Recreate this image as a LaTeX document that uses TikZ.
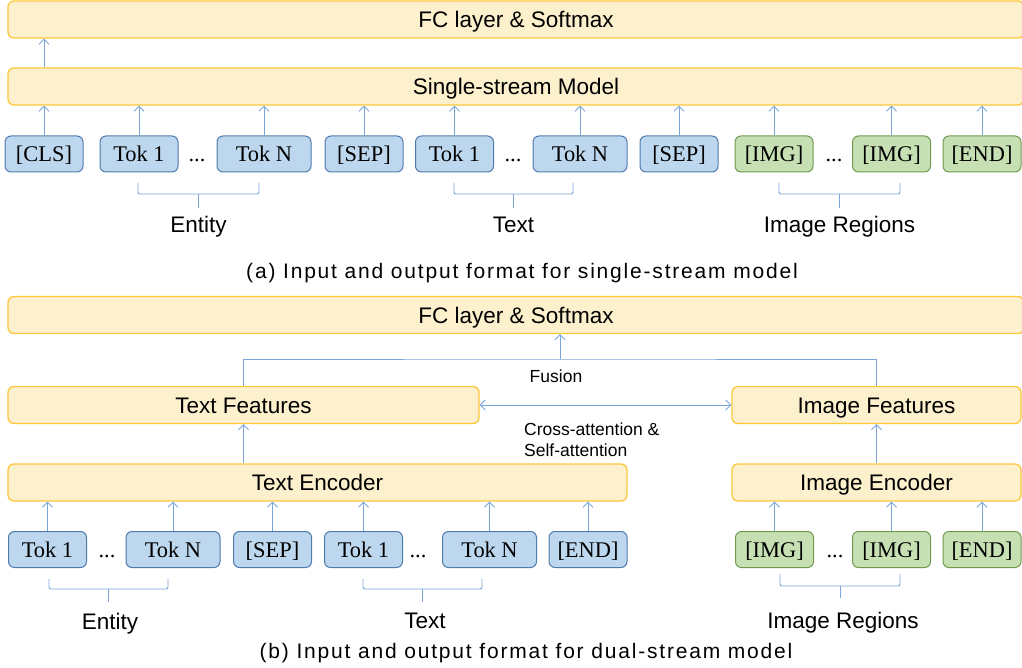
\documentclass[tikz,border=0pt]{standalone}
\usepackage{fontspec}
\setmainfont{Liberation Sans}
\newfontfamily\tokfont{Liberation Serif}
\newfontfamily\capfont[LetterSpace=8.6]{Liberation Sans}
\usetikzlibrary{arrows.meta}
\definecolor{ylwfill}{HTML}{FCF0CD}
\definecolor{ylwline}{HTML}{FCC83A}
\definecolor{blufill}{HTML}{BDD7EE}
\definecolor{bluline}{HTML}{4F7CAC}
\definecolor{grnfill}{HTML}{C6E0B4}
\definecolor{grnline}{HTML}{6F9A4E}
\definecolor{arrline}{HTML}{7AA6DA}
% square brace under a group of tokens
\newcommand\drawbracket[5]{%
  \draw[brk] (#1,#3) -- (#1,#4) -- (#2,#4) -- (#2,#3);
  \draw[brk] ({(#1+#2)/2},#4) -- ({(#1+#2)/2},#5);}

\begin{document}
\begin{tikzpicture}[x=1pt,y=-1pt,
    layer/.style={draw=ylwline, fill=ylwfill, line width=1.3pt, rounded corners=6pt,
      minimum height=37pt, inner sep=0pt, text height=16.5pt, text depth=0pt,
      font=\fontsize{22.5}{26}\selectfont},
    tok/.style={draw=bluline, fill=blufill, line width=1pt, rounded corners=6pt,
      minimum width=78pt, minimum height=36pt, inner sep=0pt,
      text height=16pt, text depth=0pt,
      font=\tokfont\fontsize{22.4}{26}\selectfont},
    tokwide/.style={tok, minimum width=94pt},
    img/.style={tok, draw=grnline, fill=grnfill},
    dots/.style={inner sep=0pt, text height=16pt, text depth=0pt,
      font=\tokfont\fontsize{22.4}{26}\selectfont},
    lbl/.style={inner sep=0pt, anchor=base, font=\fontsize{22.5}{26}\selectfont},
    small/.style={inner sep=0pt, font=\fontsize{17.5}{21}\selectfont},
    captxt/.style={inner sep=0pt, anchor=base, font=\capfont\fontsize{21}{25}\selectfont},
    arr/.style={draw=arrline, line width=0.9pt, -{Straight Barb[length=5pt,width=10pt]}},
    brk/.style={draw=arrline, line width=0.9pt, rounded corners=2pt}]
  \useasboundingbox (0,0) rectangle (1022,668);

  % (a) single-stream
  \node[layer, minimum width=1016pt] (fcA) at (516,19.5) {FC layer \& Softmax};
  \node[layer, minimum width=1016pt] (ssm) at (516,86.5) {Single-stream Model};

  \node[tok] (clsA) at (44,154) {[CLS]};
  \node[tok] (entA1) at (139,154) {Tok 1};
  \node[dots] (entAd) at (197,154) {...};
  \node[tokwide] (entAn) at (264,154) {Tok N};
  \node[tok] (sepA1) at (364,154) {[SEP]};
  \node[tok] (txtA1) at (454.5,154) {Tok 1};
  \node[dots] (txtAd) at (513,154) {...};
  \node[tokwide] (txtAn) at (580,154) {Tok N};
  \node[tok] (sepA2) at (679,154) {[SEP]};
  \node[img] (imgA1) at (774,154) {[IMG]};
  \node[dots] (imgAd) at (834,154) {...};
  \node[img] (imgAn) at (891.5,154) {[IMG]};
  \node[img] (endA) at (982,154) {[END]};

  \foreach \t in {clsA,entA1,entAn,sepA1,txtA1,txtAn,sepA2,imgA1,imgAn,endA}
    \draw[arr] (\t.north) -- (\t.north |- ssm.south);
  \draw[arr] (ssm.north -| clsA) -- (fcA.south -| clsA);

  \drawbracket{138}{259}{183}{194}{208}
  \drawbracket{454}{573}{183}{194}{208}
  \drawbracket{779}{900}{183}{194}{208}
  \node[lbl] (entAlbl) at (198.5,232.5) {Entity};
  \node[lbl] (txtAlbl) at (513.5,232.5) {Text};
  \node[lbl] (imgAlbl) at (839.5,232.5) {Image Regions};
  \node[captxt] (capA) at (522,278) {(a) Input and output format for single-stream model};

  % (b) dual-stream
  \node[layer, minimum width=1016pt] (fcB) at (516,315) {FC layer \& Softmax};
  \node[layer, minimum width=471pt] (tfeat) at (243.5,405) {Text Features};
  \node[layer, minimum width=289pt] (ifeat) at (876.5,405) {Image Features};
  \node[layer, minimum width=619pt] (tenc) at (317.5,482.5) {Text Encoder};
  \node[layer, minimum width=289pt] (ienc) at (876.5,482.5) {Image Encoder};

  \node[tok] (entB1) at (47.5,549.5) {Tok 1};
  \node[dots] (entBd) at (107,549.5) {...};
  \node[tokwide] (entBn) at (173,549.5) {Tok N};
  \node[tok] (sepB) at (272.5,549.5) {[SEP]};
  \node[tok] (txtB1) at (363.5,549.5) {Tok 1};
  \node[dots] (txtBd) at (418,549.5) {...};
  \node[tokwide] (txtBn) at (489.5,549.5) {Tok N};
  \node[tok] (endB1) at (588,549.5) {[END]};
  \node[img] (imgB1) at (774.5,549.5) {[IMG]};
  \node[dots] (imgBd) at (835,549.5) {...};
  \node[img] (imgBn) at (891.5,549.5) {[IMG]};
  \node[img] (endB2) at (982,549.5) {[END]};

  \foreach \t in {entB1,entBn,sepB,txtB1,txtBn,endB1}
    \draw[arr] (\t.north) -- (\t.north |- tenc.south);
  \foreach \t in {imgB1,imgBn,endB2}
    \draw[arr] (\t.north) -- (\t.north |- ienc.south);
  \draw[arr] (tenc.north -| tfeat) -- (tfeat.south);
  \draw[arr] (ienc.north) -- (ifeat.south);

  % fusion and attention
  \coordinate (fuse) at (560,359);
  \draw[draw=arrline, line width=0.9pt] (tfeat.north) |- (fuse) -| (ifeat.north);
  \draw[arr] (fuse) -- (fcB.south -| fuse);
  \node[small, anchor=base] (fuselbl) at (556,382) {Fusion};
  \draw[arr, {Straight Barb[length=5pt,width=10pt]}-{Straight Barb[length=5pt,width=10pt]}]
    (tfeat.east) -- (ifeat.west);
  \node[small, align=left, anchor=north west] (attnlbl) at (524,423)
    {Cross-attention \&\\Self-attention};

  \drawbracket{49}{168}{579}{589}{602}
  \drawbracket{363}{482}{579}{589}{602}
  \drawbracket{780}{900}{574}{586}{598}
  \node[lbl] (entBlbl) at (110,629) {Entity};
  \node[lbl] (txtBlbl) at (425,628.5) {Text};
  \node[lbl] (imgBlbl) at (843,628.5) {Image Regions};
  \node[captxt] (capB) at (526,658) {(b) Input and output format for dual-stream model};
\end{tikzpicture}
\end{document}
